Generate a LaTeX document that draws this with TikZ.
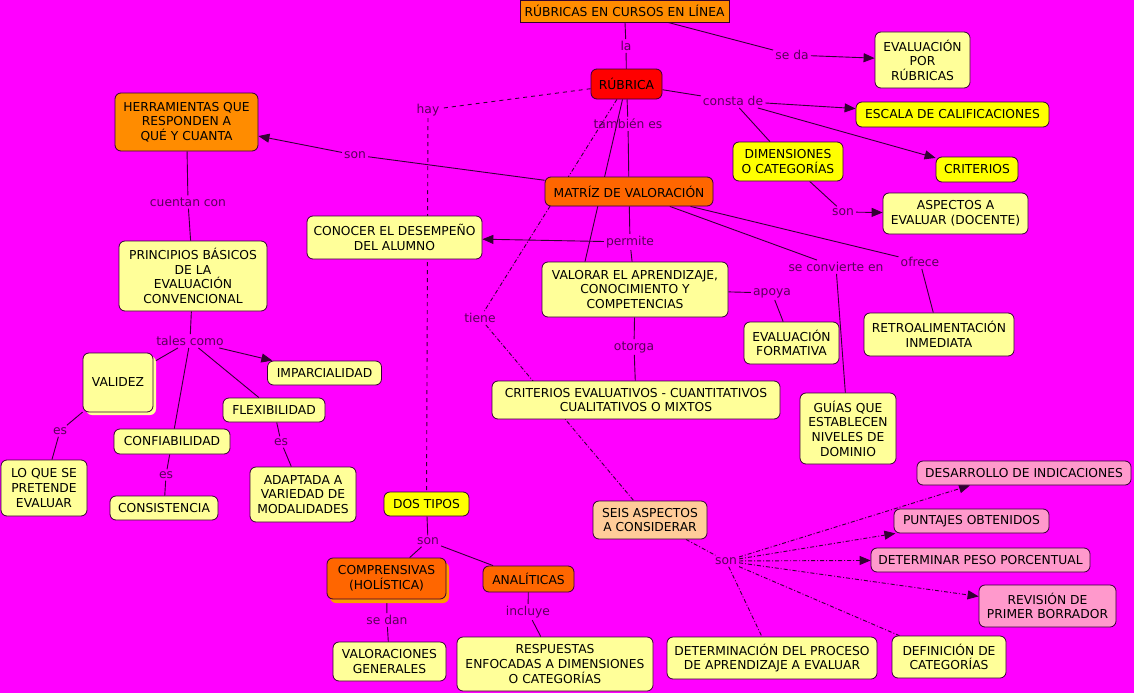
\documentclass[tikz,border=0pt]{standalone}
\usepackage{fontspec}
\setmainfont{DejaVu Sans}
\usetikzlibrary{arrows.meta,shadows}

\definecolor{cmBack}{HTML}{FF00FF}
\definecolor{cmPale}{HTML}{FFFF99}
\definecolor{cmYellow}{HTML}{FFFF00}
\definecolor{cmOrange}{HTML}{FF8C00}
\definecolor{cmDeepOrange}{HTML}{FF6600}
\definecolor{cmShadowOrange}{HTML}{FF9900}
\definecolor{cmRed}{HTML}{FF0000}
\definecolor{cmPeach}{HTML}{FFCC99}
\definecolor{cmPink}{HTML}{FF99CC}
\definecolor{cmStroke}{HTML}{330033}
\definecolor{cmLine}{HTML}{330033}
\definecolor{cmLinkText}{HTML}{5A005A}

\pgfdeclarelayer{bg}
\pgfdeclarelayer{edges}
\pgfsetlayers{bg,edges,main}

\begin{document}
\begin{tikzpicture}[
  x=1pt, y=-1pt,
  font=\fontsize{12.3}{14.6}\selectfont,
  concept/.style={rounded corners=6pt, draw=cmStroke, fill=cmPale, align=center,
                  inner sep=2pt, line width=0.8pt, text=black},
  dims/.style 2 args={minimum width=#1pt, minimum height=#2pt},
  link/.style={text=cmLinkText, inner sep=2pt},
  conn/.style={draw=cmLine, line width=0.9pt},
  flow/.style={conn, -{Triangle[length=11pt,width=9pt]}},
  dashlink/.style={conn, dash pattern=on 4pt off 4pt},
  dotlink/.style={conn, dash pattern=on 4pt off 2pt on 1pt off 2pt}
]
  \useasboundingbox (0,0) rectangle (1134,693);
  \begin{pgfonlayer}{bg}
    \fill[cmBack] (0,0) rectangle (1134,693);
  \end{pgfonlayer}

  % ---- top ----
  \node[concept, sharp corners, fill=cmOrange, dims={209}{22}] (title) at (624.5,11)
        {RÚBRICAS EN CURSOS EN LÍNEA};
  \node[concept, fill=cmRed, dims={71}{30}] (rubrica) at (626.5,84) {RÚBRICA};
  \node[concept, dims={95}{56}] (evalRub) at (922.5,60) {EVALUACIÓN\\POR\\RÚBRICAS};
  \node[concept, fill=cmYellow, dims={193}{25}] (escala) at (952.5,114.5)
        {ESCALA DE CALIFICACIONES};
  \node[concept, fill=cmYellow, dims={110}{39}] (dimens) at (788,161.5)
        {DIMENSIONES\\O CATEGORÍAS};
  \node[concept, fill=cmYellow, dims={82}{25}] (criterios) at (977,169.5) {CRITERIOS};
  \node[concept, dims={145}{41}] (aspectos) at (955.5,213.5)
        {ASPECTOS A\\EVALUAR (DOCENTE)};
  \node[concept, fill=cmDeepOrange, dims={168}{29}] (matriz) at (629,191.5)
        {MATRÍZ DE VALORACIÓN};

  % ---- left branch ----
  \node[concept, fill=cmOrange, dims={143}{58}] (herram) at (186.5,122)
        {HERRAMIENTAS QUE\\RESPONDEN A\\QUÉ Y CUANTA};
  \node[concept, dims={148}{70}] (princip) at (193,276)
        {PRINCIPIOS BÁSICOS\\DE LA\\EVALUACIÓN\\CONVENCIONAL};
  \node[concept, dims={70}{59},
        drop shadow={shadow xshift=3pt, shadow yshift=-3pt, fill=cmPale, opacity=1}]
        (validez) at (118,382.5) {VALIDEZ};
  \node[concept, dims={114}{24}] (imparc) at (324.5,373) {IMPARCIALIDAD};
  \node[concept, dims={102}{24}] (flexib) at (274,410) {FLEXIBILIDAD};
  \node[concept, dims={116}{25}] (confiab) at (172,441.5) {CONFIABILIDAD};
  \node[concept, dims={86}{56}] (loque) at (44,488) {LO QUE SE\\PRETENDE\\EVALUAR};
  \node[concept, dims={108}{24}] (consist) at (164,508) {CONSISTENCIA};
  \node[concept, dims={106}{55}] (adaptada) at (303,494.5)
        {ADAPTADA A\\VARIEDAD DE\\MODALIDADES};

  % ---- middle ----
  \node[concept, dims={175}{43}] (conocer) at (394.5,237.5)
        {CONOCER EL DESEMPEÑO\\DEL ALUMNO};
  \node[concept, dims={186}{55}] (valorar) at (635,289.5)
        {VALORAR EL APRENDIZAJE,\\CONOCIMIENTO Y\\COMPETENCIAS};
  \node[concept, dims={288}{38}] (critEval) at (636,400)
        {CRITERIOS EVALUATIVOS - CUANTITATIVOS\\CUALITATIVOS O MIXTOS};
  \node[concept, dims={95}{42}] (evalForm) at (791.5,343) {EVALUACIÓN\\FORMATIVA};
  \node[concept, dims={150}{43}] (retro) at (939,334.5)
        {RETROALIMENTACIÓN\\INMEDIATA};
  \node[concept, dims={96}{71}] (guias) at (848,428.5)
        {GUÍAS QUE\\ESTABLECEN\\NIVELES DE\\DOMINIO};

  % ---- bottom ----
  \node[concept, fill=cmYellow, dims={85}{24}] (dosTipos) at (426.5,504) {DOS TIPOS};
  \node[concept, fill=cmDeepOrange, dims={119}{41},
        drop shadow={shadow xshift=3pt, shadow yshift=-4pt, fill=cmShadowOrange, opacity=1}]
        (comprens) at (386.5,578.5) {COMPRENSIVAS\\(HOLÍSTICA)};
  \node[concept, fill=cmDeepOrange, dims={91}{26}] (analit) at (528.5,579) {ANALÍTICAS};
  \node[concept, dims={113}{39}] (valorac) at (389.5,661.5) {VALORACIONES\\GENERALES};
  \node[concept, dims={196}{54}] (respuest) at (555,664)
        {RESPUESTAS\\ENFOCADAS A DIMENSIONES\\O CATEGORÍAS};
  \node[concept, fill=cmPeach, dims={114}{38}] (seis) at (650,520)
        {SEIS ASPECTOS\\A CONSIDERAR};
  \node[concept, fill=cmPink, dims={214}{24}] (desarr) at (1024,473)
        {DESARROLLO DE INDICACIONES};
  \node[concept, fill=cmPink, dims={155}{24}] (puntajes) at (971.5,521)
        {PUNTAJES OBTENIDOS};
  \node[concept, fill=cmPink, dims={219}{24}] (pesoPorc) at (980.5,560)
        {DETERMINAR PESO PORCENTUAL};
  \node[concept, fill=cmPink, dims={137}{42}] (revision) at (1047.5,606)
        {REVISIÓN DE\\PRIMER BORRADOR};
  \node[concept, dims={114}{42}] (definic) at (949,657) {DEFINICIÓN DE\\CATEGORÍAS};
  \node[concept, dims={210}{42}] (determin) at (772,658)
        {DETERMINACIÓN DEL PROCESO\\DE APRENDIZAJE A EVALUAR};

  % ---- linking phrases ----
  \node[link] (lLa) at (626,46) {la};
  \node[link] (lSeDa) at (792,55) {se da};
  \node[link] (lConsta) at (733,101) {consta de};
  \node[link] (lTambien) at (628,124) {también es};
  \node[link] (lHay) at (428,110) {hay};
  \node[link] (lSonH) at (355,155) {son};
  \node[link] (lCuentan) at (188,202) {cuentan con};
  \node[link] (lPermite) at (630,242) {permite};
  \node[link] (lTales) at (190,341) {tales como};
  \node[link] (lEsVal) at (60,431) {es};
  \node[link] (lEsConf) at (166,475) {es};
  \node[link] (lEsFlex) at (281,442) {es};
  \node[link] (lSonDim) at (843,212) {son};
  \node[link] (lSeConv) at (836,267) {se convierte en};
  \node[link] (lOfrece) at (920,262) {ofrece};
  \node[link] (lApoya) at (772,293) {apoya};
  \node[link] (lOtorga) at (634,347) {otorga};
  \node[link] (lTiene) at (480,318) {tiene};
  \node[link] (lSonDos) at (428,541) {son};
  \node[link] (lSeDan) at (387,620) {se dan};
  \node[link] (lIncluye) at (528,612) {incluye};
  \node[link] (lSonSeis) at (726,561) {son};

  % ---- connectors (under the boxes) ----
  \begin{pgfonlayer}{edges}
    \draw[conn] (title) -- (lLa);
    \draw[conn] (lLa) -- (rubrica);
    \draw[conn] (title) -- (lSeDa);
    \draw[flow] (lSeDa) -- (evalRub);
    \draw[conn] (rubrica) -- (lConsta);
    \draw[flow] (lConsta) -- (escala);
    \draw[flow] (lConsta) -- (criterios);
    \draw[conn] (lConsta) -- (dimens);
    \draw[conn] (dimens) -- (lSonDim);
    \draw[flow] (lSonDim) -- (aspectos);
    \draw[conn] (rubrica) -- (lTambien);
    \draw[conn] (lTambien) -- (matriz);
    \draw[conn] ([xshift=-4pt]rubrica.south) -- ([xshift=-50pt]valorar.north);
    \draw[dashlink] (rubrica) -- (lHay);
    \draw[dashlink] (lHay) -- (dosTipos);
    \draw[dotlink] (rubrica) -- (lTiene);
    \draw[dotlink] (lTiene) -- (seis);

    \draw[conn] (matriz) -- (lSonH);
    \draw[flow] (lSonH) -- (herram);
    \draw[conn] (herram) -- (lCuentan);
    \draw[conn] (lCuentan) -- (princip);
    \draw[conn] (princip) -- (lTales);
    \draw[conn] (lTales) -- (validez);
    \draw[conn] (lTales) -- (confiab);
    \draw[conn] (lTales) -- (flexib);
    \draw[flow] (lTales) -- (imparc);
    \draw[conn] (validez) -- (lEsVal);
    \draw[conn] (lEsVal) -- (loque);
    \draw[conn] (confiab) -- (lEsConf);
    \draw[conn] (lEsConf) -- (consist);
    \draw[conn] (flexib) -- (lEsFlex);
    \draw[conn] (lEsFlex) -- (adaptada);

    \draw[conn] (matriz) -- (lPermite);
    \draw[flow] (lPermite) -- (conocer);
    \draw[conn] (lPermite) -- (valorar);
    \draw[conn] (matriz) -- (lSeConv);
    \draw[conn] (lSeConv) -- (guias);
    \draw[conn] (matriz) -- (lOfrece);
    \draw[conn] (lOfrece) -- (retro);
    \draw[conn] (valorar) -- (lApoya);
    \draw[conn] (lApoya) -- (evalForm);
    \draw[conn] (valorar) -- (lOtorga);
    \draw[conn] (lOtorga) -- (critEval);

    \draw[conn] (dosTipos) -- (lSonDos);
    \draw[conn] (lSonDos) -- (comprens);
    \draw[conn] (lSonDos) -- (analit);
    \draw[conn] (comprens) -- (lSeDan);
    \draw[conn] (lSeDan) -- (valorac);
    \draw[conn] (analit) -- (lIncluye);
    \draw[conn] (lIncluye) -- (respuest);

    \draw[dotlink] (seis) -- (lSonSeis);
    \draw[dotlink, -{Triangle[length=11pt,width=9pt]}] (lSonSeis) -- ([xshift=-54pt]desarr.south);
    \draw[dotlink, -{Triangle[length=11pt,width=9pt]}] (lSonSeis) -- (puntajes);
    \draw[dotlink, -{Triangle[length=11pt,width=9pt]}] (lSonSeis) -- (pesoPorc);
    \draw[dotlink, -{Triangle[length=11pt,width=9pt]}] (lSonSeis) -- (revision);
    \draw[dotlink] (lSonSeis) -- (definic);
    \draw[dotlink] (lSonSeis) -- (determin);
  \end{pgfonlayer}
\end{tikzpicture}
\end{document}
